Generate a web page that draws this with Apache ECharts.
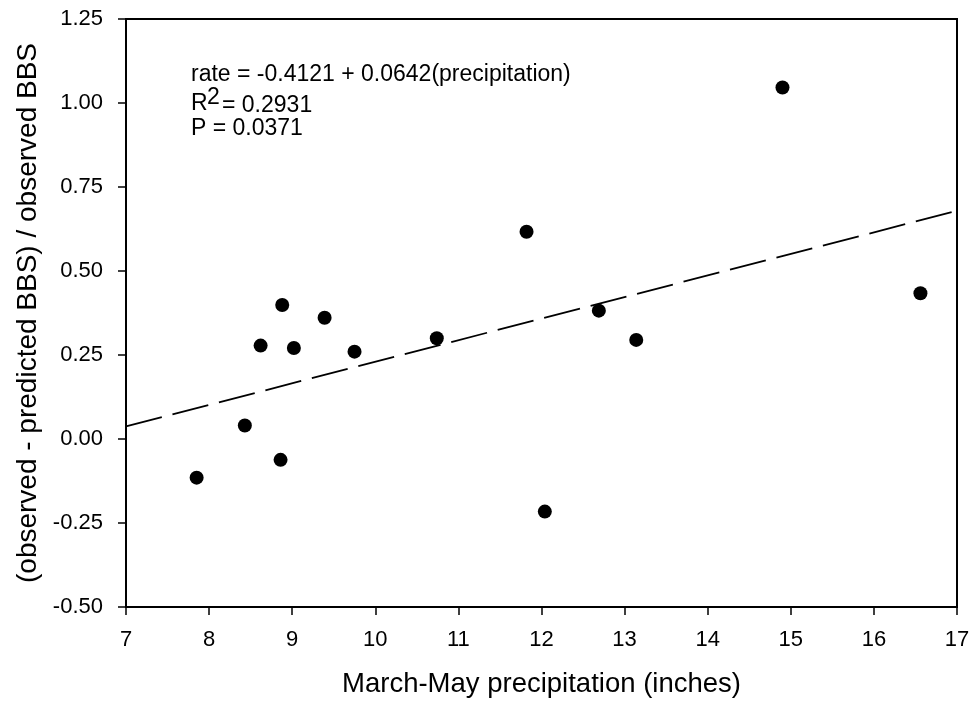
<!DOCTYPE html>
<html>
<head>
<meta charset="utf-8">
<script src="https://cdn.jsdelivr.net/npm/echarts@6/dist/echarts.min.js"></script>
<style>
html,body{margin:0;padding:0;background:#fff;}
#chart{width:973px;height:709px;}
</style>
</head>
<body>
<div id="chart"></div>
<script>
// Observed data points (precipitation, rate)
var precipitation = [7.85, 8.43, 8.62, 8.88, 8.86, 9.02, 9.39, 9.75, 10.74, 11.82, 12.04, 12.69, 13.14, 14.90, 16.56];
var rate = [-0.115, 0.040, 0.278, 0.399, -0.062, 0.271, 0.361, 0.260, 0.300, 0.617, -0.216, 0.382, 0.295, 1.046, 0.434];
// Fitted regression line endpoints: rate = -0.4121 + 0.0642(precipitation)
var fitX = [7, 17];
var fitY = [0.0373, 0.6793];
var xTicks = [7, 8, 9, 10, 11, 12, 13, 14, 15, 16, 17];
var yTicks = ['-0.50', '-0.25', '0.00', '0.25', '0.50', '0.75', '1.00', '1.25'];

var pts = precipitation.map(function (x, i) { return [x, rate[i]]; });
var fit = fitX.map(function (x, i) { return [x, fitY[i]]; });

var chart = echarts.init(document.getElementById('chart'), null, {renderer: 'canvas'});
var font = 'Liberation Sans, Arial, sans-serif';
var annFont = 23;
chart.setOption({
  animation: false,
  backgroundColor: '#fff',
  grid: {left: 126, right: 16, top: 19, bottom: 102, show: true, borderColor: '#000', borderWidth: 2, backgroundColor: 'transparent'},
  xAxis: {
    type: 'value', min: 7, max: 17, interval: 1,
    name: 'March-May precipitation (inches)', nameLocation: 'middle', nameGap: 63,
    nameTextStyle: {fontFamily: font, fontSize: 27.5, color: '#000'},
    axisLine: {show: true, onZero: false, lineStyle: {color: '#000', width: 2}},
    axisTick: {show: true, length: 8, lineStyle: {color: '#000', width: 1.5}},
    axisLabel: {fontFamily: font, fontSize: 22, color: '#000', margin: 22,
      formatter: function (v) { return xTicks.indexOf(v) >= 0 ? String(v) : ''; }},
    splitLine: {show: false}
  },
  yAxis: {
    type: 'value', min: -0.5, max: 1.25, interval: 0.25,
    name: '(observed - predicted BBS) / observed BBS', nameLocation: 'middle', nameGap: 82,
    nameTextStyle: {fontFamily: font, fontSize: 28, color: '#000'},
    axisLine: {show: true, onZero: false, lineStyle: {color: '#000', width: 2}},
    axisTick: {show: true, length: 8, lineStyle: {color: '#000', width: 1.5}},
    axisLabel: {fontFamily: font, fontSize: 22, color: '#000', margin: 23,
      formatter: function (v) {
        var i = Math.round((v + 0.5) / 0.25);
        return yTicks[i] !== undefined ? yTicks[i] : '';
      }},
    splitLine: {show: false}
  },
  series: [
    {
      type: 'line', data: fit, symbol: 'none',
      lineStyle: {color: '#000', width: 1.8, type: [37, 11]},
      z: 2
    },
    {
      type: 'scatter', data: pts, symbol: 'circle', symbolSize: 14,
      itemStyle: {color: '#000', opacity: 1}, z: 3
    }
  ],
  graphic: [
    {type: 'text', x: 191, y: 75, style: {text: 'rate = -0.4121 + 0.0642(precipitation)', fontFamily: font, fontSize: annFont, fill: '#000', verticalAlign: 'middle'}},
    {type: 'text', x: 191, y: 104, style: {text: 'R', fontFamily: font, fontSize: annFont, fill: '#000', verticalAlign: 'middle'}},
    {type: 'text', x: 207, y: 98, style: {text: '2', fontFamily: font, fontSize: annFont, fill: '#000', verticalAlign: 'middle'}},
    {type: 'text', x: 222, y: 106, style: {text: '= 0.2931', fontFamily: font, fontSize: annFont, fill: '#000', verticalAlign: 'middle'}},
    {type: 'text', x: 191, y: 129, style: {text: 'P = 0.0371', fontFamily: font, fontSize: annFont, fill: '#000', verticalAlign: 'middle'}}
  ]
});
</script>
</body>
</html>
